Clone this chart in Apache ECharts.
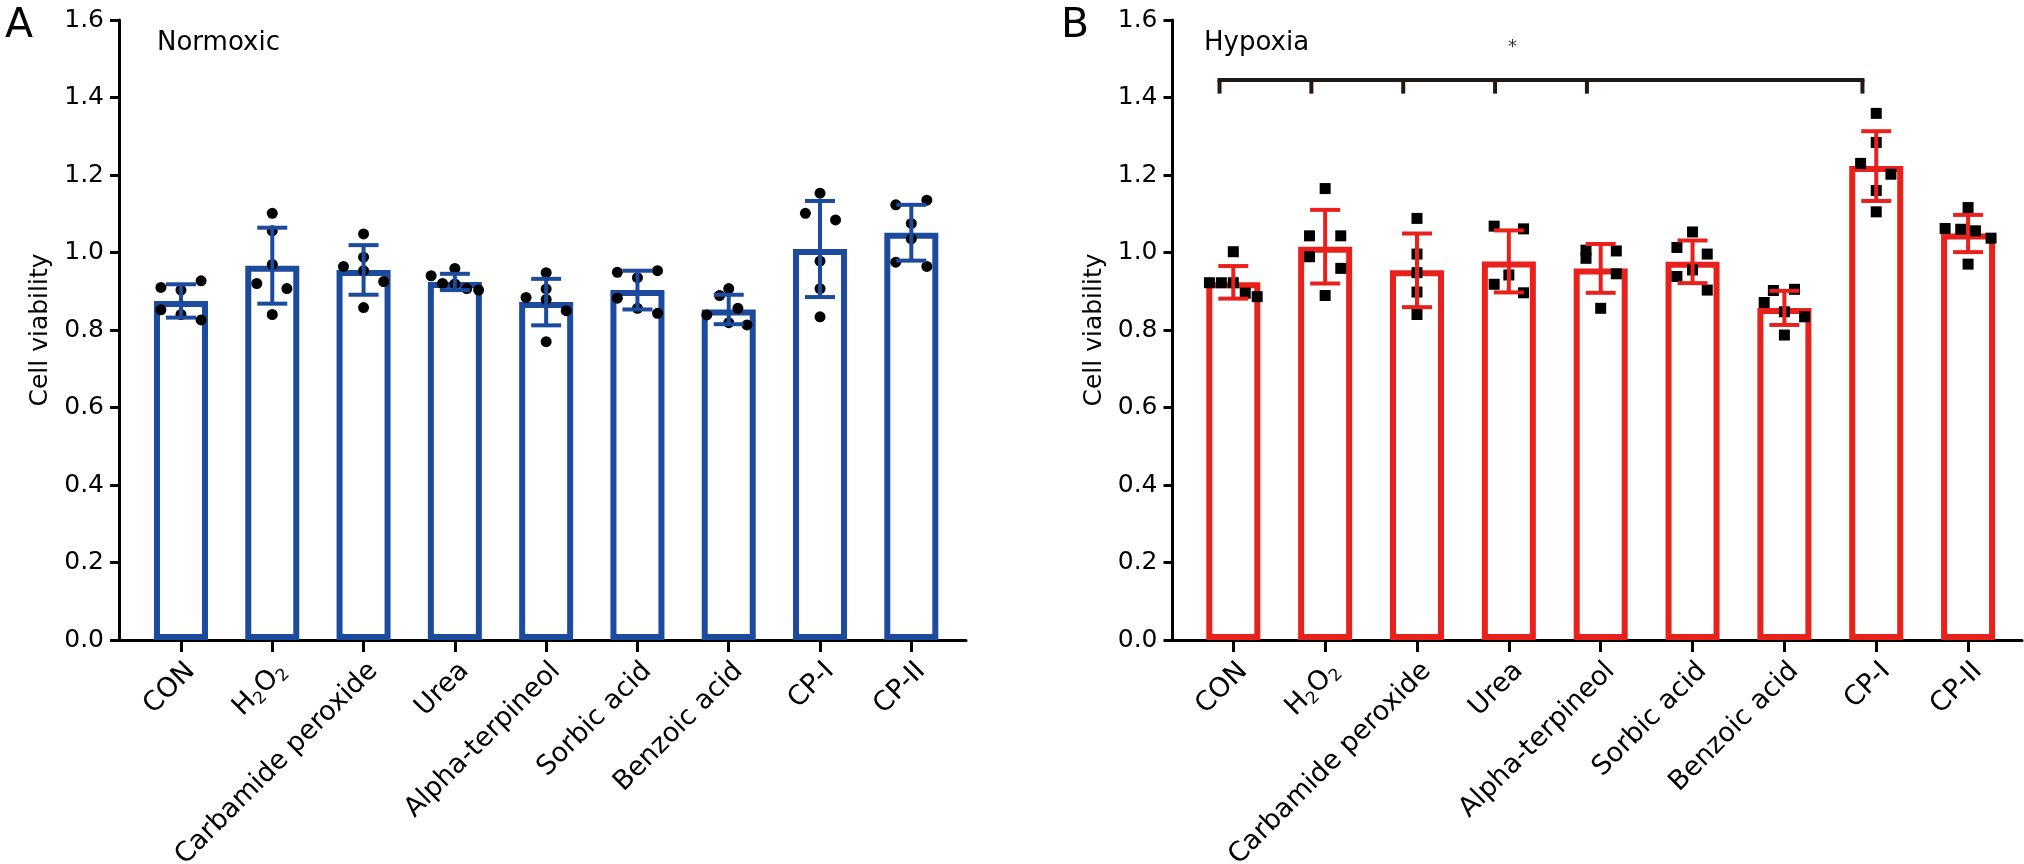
<!DOCTYPE html>
<html lang="en">
<head>
    <meta charset="UTF-8">
    <title>Cell viability</title>
    <script type="text/javascript" src="https://cdn.jsdelivr.net/npm/echarts@6.0.0/dist/echarts.min.js"></script>
    <style>
        html, body { margin: 0; padding: 0; background: #fff; }
    </style>
</head>
<body>
<div id="main" style="width: 2024px;height:864px;"></div>
<script type="text/javascript">
    // groups on the x axis
    var categories = ['CON', 'H2O2', 'Carbamide peroxide', 'Urea', 'Alpha-terpineol',
        'Sorbic acid', 'Benzoic acid', 'CP-I', 'CP-II'];
    var yTickStep = 0.2;

    // A: normoxic
    var normoxicMean = [0.875, 0.966, 0.955, 0.924, 0.872, 0.903, 0.853, 1.009, 1.051];
    var normoxicSD = [0.043, 0.098, 0.064, 0.021, 0.060, 0.050, 0.038, 0.124, 0.072];
    var normoxicPoints = [
        [0.910, 0.903, 0.927, 0.852, 0.840, 0.826],
        [1.101, 1.056, 0.969, 0.920, 0.907, 0.840],
        [1.048, 0.988, 0.964, 0.953, 0.925, 0.858],
        [0.940, 0.959, 0.920, 0.919, 0.907, 0.903],
        [0.948, 0.906, 0.884, 0.879, 0.850, 0.770],
        [0.949, 0.953, 0.935, 0.882, 0.856, 0.843],
        [0.907, 0.889, 0.856, 0.839, 0.819, 0.813],
        [1.153, 1.101, 1.084, 0.978, 0.907, 0.834],
        [1.123, 1.135, 1.075, 1.035, 0.975, 0.964]
    ];

    // B: hypoxia
    var hypoxiaMean = [0.923, 1.015, 0.954, 0.977, 0.959, 0.976, 0.857, 1.223, 1.049];
    var hypoxiaSD = [0.042, 0.095, 0.095, 0.080, 0.063, 0.055, 0.044, 0.090, 0.048];
    var hypoxiaPoints = [
        [1.002, 0.922, 0.922, 0.922, 0.895, 0.886],
        [1.165, 1.043, 1.043, 0.989, 0.959, 0.889],
        [1.088, 0.996, 0.948, 0.898, 0.840],
        [1.068, 1.061, 0.942, 0.918, 0.896],
        [1.006, 0.985, 1.004, 0.945, 0.856],
        [1.053, 1.013, 0.996, 0.955, 0.938, 0.903],
        [0.902, 0.905, 0.871, 0.847, 0.834, 0.787],
        [1.359, 1.284, 1.230, 1.202, 1.160, 1.105],
        [1.116, 1.062, 1.060, 1.056, 1.037, 0.970]
    ];

    // significance bracket (hypoxia): groups joined, bracket height, star
    var sigGroups = [0, 1, 2, 3, 4, 7];
    var sigLevel = 1.445;
    var sigStarLevel = 1.53;
    var sigText = '*';

    // horizontal spread of the dots inside each bar (category units, layout only)
    var normoxicJitter = [
        [-0.22, 0, 0.22, -0.22, 0, 0.22],
        [0, 0, 0, -0.17, 0.16, 0],
        [0, 0, -0.22, 0, 0.22, 0],
        [-0.26, 0, -0.135, 0, 0.13, 0.26],
        [0, 0, -0.22, 0, 0.22, 0],
        [-0.22, 0.22, 0, -0.22, 0, 0.22],
        [0, -0.1, 0.1, -0.24, 0, 0.2],
        [0, -0.16, 0.17, 0, 0, 0],
        [-0.17, 0.17, 0, 0, -0.17, 0.17]
    ];
    var hypoxiaJitter = [
        [0, -0.26, -0.13, 0, 0.13, 0.26],
        [0, -0.17, 0.17, -0.17, 0.17, 0],
        [0, 0, 0, 0, 0],
        [-0.16, 0.16, 0, -0.16, 0.16],
        [-0.16, -0.16, 0.17, 0.17, 0],
        [0, -0.17, 0.16, 0, -0.17, 0.16],
        [-0.12, 0.11, -0.22, 0, 0.22, 0],
        [0, 0, -0.17, 0.16, 0, 0],
        [0, -0.25, -0.08, 0.08, 0.25, 0]
    ];

    var FONT = 'DejaVu Sans';
    var BLUE = '#1c4a9d';
    var RED = '#e8211c';
    var catIdx = categories.map(function (c, i) { return i; });

    var myChart = echarts.init(document.getElementById('main'), null, {width: 2024, height: 864});

    function xAxisFor(gridIndex, min, max) {
        return {
            type: 'value', gridIndex: gridIndex, min: min, max: max,
            splitLine: {show: false},
            axisLine: {onZero: false, lineStyle: {color: '#000', width: 3}},
            axisTick: {customValues: catIdx, length: 12, lineStyle: {color: '#000', width: 3}},
            axisLabel: {
                customValues: catIdx,
                rotate: 45, margin: 17,
                // top padding pushes the rotated text down-right of its tick
                padding: [28, 0, 0, 0],
                fontSize: 27, fontFamily: FONT, color: '#000',
                formatter: function (v) {
                    var name = categories[Math.round(v)];
                    if (name === 'H2O2') return '{n|H}{s|2}{n|O}{s|2}';
                    return name;
                },
                rich: {
                    n: {fontSize: 27, fontFamily: FONT, color: '#000', lineHeight: 31},
                    s: {fontSize: 17, fontFamily: FONT, color: '#000', lineHeight: 14, verticalAlign: 'bottom'}
                }
            }
        };
    }

    function yAxisFor(gridIndex) {
        return {
            type: 'value', gridIndex: gridIndex, min: 0, max: 1.6, interval: yTickStep,
            name: 'Cell viability', nameLocation: 'middle', nameGap: 66,
            nameTextStyle: {fontSize: 25, fontFamily: FONT, color: '#000'},
            splitLine: {show: false},
            axisLine: {show: true, onZero: false, lineStyle: {color: '#000', width: 3}},
            axisTick: {show: true, length: 9, lineStyle: {color: '#000', width: 3}},
            axisLabel: {
                fontSize: 25, fontFamily: FONT, color: '#000', margin: 15,
                formatter: function (v) { return v.toFixed(1); }
            }
        };
    }

    function errorBars(idx, means, sds, color) {
        return {
            type: 'custom', xAxisIndex: idx, yAxisIndex: idx, z: 5,
            data: means.map(function (m, i) { return [i, m, sds[i]]; }),
            renderItem: function (params, api) {
                var x = api.value(0), m = api.value(1), s = api.value(2);
                var hi = api.coord([x, m + s]);
                var lo = api.coord([x, m - s]);
                var half = 15;
                var style = {stroke: color, lineWidth: 4};
                return {
                    type: 'group',
                    children: [
                        {type: 'line', shape: {x1: hi[0], y1: hi[1], x2: lo[0], y2: lo[1]}, style: style},
                        {type: 'line', shape: {x1: hi[0] - half, y1: hi[1], x2: hi[0] + half, y2: hi[1]}, style: style},
                        {type: 'line', shape: {x1: lo[0] - half, y1: lo[1], x2: lo[0] + half, y2: lo[1]}, style: style}
                    ]
                };
            }
        };
    }

    function dots(idx, points, jitter, symbol) {
        var data = [];
        points.forEach(function (grp, i) {
            grp.forEach(function (v, k) {
                data.push([i + jitter[i][k], v]);
            });
        });
        return {
            type: 'scatter', xAxisIndex: idx, yAxisIndex: idx, z: 4,
            symbol: symbol, symbolSize: 11,
            itemStyle: {color: '#000', opacity: 1},
            data: data
        };
    }

    function bars(idx, means, color) {
        return {
            type: 'bar', xAxisIndex: idx, yAxisIndex: idx, z: 2,
            barWidth: 54,
            itemStyle: {color: '#fff', borderColor: color, borderWidth: 6},
            data: means.map(function (m, i) { return [i, m]; })
        };
    }

    var option = {
        animation: false,
        backgroundColor: '#fff',
        textStyle: {fontFamily: FONT},
        title: [
            {text: 'A', left: 0, top: 1, textStyle: {fontSize: 41, fontWeight: 'normal', fontFamily: FONT, color: '#000'}},
            {text: 'Normoxic', left: 152, top: 25, textStyle: {fontSize: 26, fontWeight: 'normal', fontFamily: FONT, color: '#000'}},
            {text: 'B', left: 1056, top: 1, textStyle: {fontSize: 41, fontWeight: 'normal', fontFamily: FONT, color: '#000'}},
            {text: 'Hypoxia', left: 1199, top: 25, textStyle: {fontSize: 26, fontWeight: 'normal', fontFamily: FONT, color: '#000'}}
        ],
        grid: [
            {left: 119, width: 847, top: 20, height: 620, outerBoundsMode: 'none', containLabel: false},
            {left: 1172.5, width: 849.5, top: 20, height: 620, outerBoundsMode: 'none', containLabel: false}
        ],
        xAxis: [xAxisFor(0, -0.679, 8.599), xAxisFor(1, -0.662, 8.587)],
        yAxis: [yAxisFor(0), yAxisFor(1)],
        series: [
            bars(0, normoxicMean, BLUE),
            dots(0, normoxicPoints, normoxicJitter, 'circle'),
            errorBars(0, normoxicMean, normoxicSD, BLUE),

            bars(1, hypoxiaMean, RED),
            dots(1, hypoxiaPoints, hypoxiaJitter, 'rect'),
            errorBars(1, hypoxiaMean, hypoxiaSD, RED),

            {
                // bracket across compared groups
                type: 'custom', xAxisIndex: 1, yAxisIndex: 1, z: 6,
                data: [[sigGroups[0], sigLevel]],
                renderItem: function (params, api) {
                    var shift = -0.15, drop = 0.035;
                    var first = api.coord([sigGroups[0] + shift, sigLevel]);
                    var last = api.coord([sigGroups[sigGroups.length - 1] + shift, sigLevel]);
                    var style = {stroke: '#231815', lineWidth: 4};
                    var children = [{type: 'line', shape: {x1: first[0] - 2, y1: first[1], x2: last[0] + 2, y2: last[1]}, style: style}];
                    sigGroups.forEach(function (g) {
                        var a = api.coord([g + shift, sigLevel]);
                        var b = api.coord([g + shift, sigLevel - drop]);
                        children.push({type: 'line', shape: {x1: a[0], y1: a[1], x2: b[0], y2: b[1]}, style: style});
                    });
                    return {type: 'group', children: children};
                }
            },
            {
                type: 'scatter', xAxisIndex: 1, yAxisIndex: 1, z: 6,
                symbolSize: 0,
                data: [[3.04, sigStarLevel]],
                label: {
                    show: true, position: 'inside', formatter: sigText,
                    fontSize: 18, fontFamily: FONT, color: '#000'
                }
            }
        ]
    };

    myChart.setOption(option);
</script>
</body>
</html>
